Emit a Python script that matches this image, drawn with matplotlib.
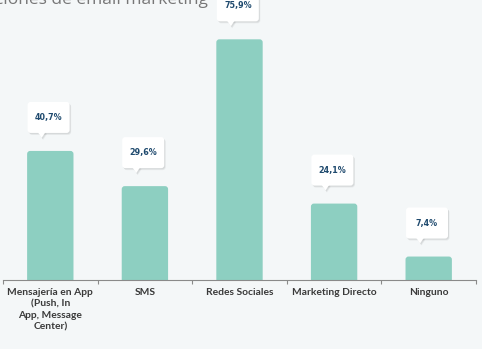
import numpy as np
import matplotlib.pyplot as plt
from matplotlib.patches import FancyBboxPatch, Polygon
from matplotlib.transforms import IdentityTransform

# data
categories = ['Mensajería en App\n(Push, In\nApp, Message\nCenter)', 'SMS',
              'Redes Sociales', 'Marketing Directo', 'Ninguno']
values = [40.7, 29.6, 75.9, 24.1, 7.4]
value_labels = ['40,7%', '29,6%', '75,9%', '24,1%', '7,4%']
title = 'Canales alternativos a las acciones de email marketing'

bg = '#f4f7f8'
bar_color = '#8dcfc1'
label_color = '#1f4a6e'

plt.rcParams['font.family'] = ['Lato', 'DejaVu Sans']

W, H = 482, 349
fig = plt.figure(figsize=(W / 100, H / 100), dpi=100)
fig.patch.set_facecolor(bg)
ax = fig.add_axes([3 / W, 69 / H, 473 / W, 280 / H])
ax.set_facecolor(bg)

x = np.arange(len(values))
ax.set_xlim(-0.5, len(values) - 0.5)
ax.set_ylim(0, 88.3)

# bars with slightly rounded tops (bottom hidden under the axis)
bw = 0.49
px_x = 473 / len(values)          # pixels per x unit
px_y = 280 / 88.3                 # pixels per y unit
r = 3.0
for xi, v in zip(x, values):
    ax.add_patch(FancyBboxPatch((xi - bw / 2 + r / px_x, -5), bw - 2 * r / px_x, v + 5 - r / px_y,
                                boxstyle=f'round,pad={r / px_x},rounding_size={r / px_x}',
                                mutation_aspect=px_x / px_y,
                                fc=bar_color, ec='none', clip_on=True))

for s in ['top', 'left', 'right']:
    ax.spines[s].set_visible(False)
ax.spines['bottom'].set_color('#8a8a8a')
ax.spines['bottom'].set_linewidth(0.8)
ax.set_yticks([])
ax.set_xticks(x)
ax.set_xticklabels(categories, fontsize=7.4, color='#3a3a3a', fontweight='bold',
                   linespacing=1.35, va='top')
ax.tick_params(axis='x', which='major', length=0, pad=6)
ax.set_xticks(np.arange(-0.5, len(values)), minor=True)
ax.tick_params(axis='x', which='minor', length=3, color='#8a8a8a', width=0.8)

# value callouts above each bar
ident = IdentityTransform()
for xi, v, lab in zip(x, values, value_labels):
    bx, by = ax.transData.transform((xi - bw / 2, v))
    left = bx + 0.5
    bottom = by + 18
    w, h = 42, 31
    for dx, dy, a in [(1.5, -2.0, 0.05), (1.0, -1.2, 0.07)]:
        fig.patches.append(FancyBboxPatch((left + dx, bottom + dy), w, h,
                                          boxstyle='round,pad=0,rounding_size=3',
                                          fc='#000000', ec='none', alpha=a,
                                          transform=ident, figure=fig))
        fig.patches.append(Polygon([(left + 10 + dx, bottom + 1 + dy), (left + 18 + dx, bottom + 1 + dy),
                                    (left + 14 + dx, bottom - 5 + dy)],
                                   closed=True, fc='#000000', ec='none', alpha=a,
                                   transform=ident, figure=fig))
    fig.patches.append(FancyBboxPatch((left, bottom), w, h,
                                      boxstyle='round,pad=0,rounding_size=3',
                                      fc='white', ec='none', transform=ident, figure=fig))
    fig.patches.append(Polygon([(left + 10, bottom + 1), (left + 18, bottom + 1), (left + 14, bottom - 5)],
                               closed=True, fc='white', ec='none', transform=ident, figure=fig))
    fig.text((left + w / 2) / W, (bottom + h / 2) / H, lab, ha='center', va='center',
             fontsize=5.8, fontweight='bold', color=label_color, family='DejaVu Sans')

# title (runs off the top-left of the canvas)
fig.text(208 / W, 1 - 4.5 / H, title, ha='right', va='baseline', fontsize=12.5, color='#777777',
         family=['Open Sans', 'DejaVu Sans'])

fig.savefig('out.png', dpi=100, facecolor=bg)
